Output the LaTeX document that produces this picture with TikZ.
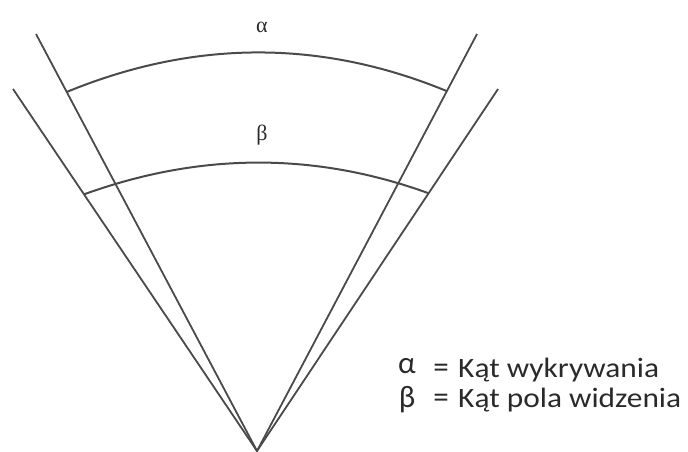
\documentclass[tikz,border=0pt]{standalone}
\usepackage{fontspec}
\setmainfont{Carlito}
\newfontfamily\labelfont{Liberation Serif}
\usetikzlibrary{calc}
\definecolor{linegray}{HTML}{4A4A4A}
\definecolor{textgray}{HTML}{2A2A2A}

\begin{document}
\begin{tikzpicture}[x=1pt, y=1pt,
    ray/.style={draw=linegray, line width=1.8pt},
    band/.style={draw=linegray, line width=2pt},
    anglelabel/.style={font=\labelfont\fontsize{22}{22}\selectfont, text=textgray, inner sep=0pt},
    legendsym/.style={font=\fontsize{31}{31}\selectfont, text=textgray, anchor=base, inner sep=0pt},
    legendtext/.style={font=\fontsize{28}{30}\selectfont, text=textgray, anchor=base west,
      inner sep=0pt, xscale=1.12, transform shape}]
  \useasboundingbox (0,0) rectangle (688,452);

  % apex and the far ends of the four rays
  \coordinate (apex) at (257,1);
  \coordinate (detL) at (36,418);
  \coordinate (detR) at (477,418);
  \coordinate (fovL) at (13,363);
  \coordinate (fovR) at (498,363);
  \draw[ray] (detL) -- (apex) -- (detR);
  \draw[ray] (fovL) -- (apex) -- (fovR);

  % arcs between the rays
  \coordinate (detArcL) at ($(apex)!0.861!(detL)$);
  \coordinate (detArcR) at ($(apex)!0.863!(detR)$);
  \coordinate (detTop) at (258,438.6);
  \coordinate (fovArcL) at ($(apex)!0.709!(fovL)$);
  \coordinate (fovArcR) at ($(apex)!0.712!(fovR)$);
  \coordinate (fovTop) at (258,320.6);
  \draw[band] (detArcL) .. controls ($(detArcL)!0.667!(detTop)$)
    and ($(detArcR)!0.667!(detTop)$) .. (detArcR);
  \draw[band] (fovArcL) .. controls ($(fovArcL)!0.667!(fovTop)$)
    and ($(fovArcR)!0.667!(fovTop)$) .. (fovArcR);

  \node[anglelabel] (detLabel) at (262,425) {α};
  \node[anglelabel] (fovLabel) at (262,317) {β};

  % legend
  \node[legendsym] (legAlpha) at (407,78) {α};
  \node[legendsym] (legBeta) at (407,44) {β};
  \node[legendsym] (legEqA) at (441,74) {=};
  \node[legendsym] (legEqB) at (441,44) {=};
  \node[legendtext] (legDet) at (458,74) {Kąt wykrywania};
  \node[legendtext] (legFov) at (458,44) {Kąt pola widzenia};
\end{tikzpicture}
\end{document}
